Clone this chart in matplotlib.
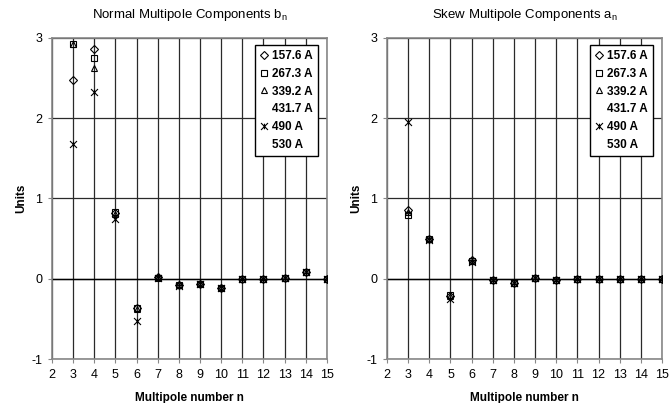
import numpy as np
import matplotlib.pyplot as plt
from matplotlib.path import Path

plt.rcParams['font.family'] = ['Liberation Sans', 'DejaVu Sans']
plt.rcParams['axes.unicode_minus'] = False

n = [3, 4, 5, 6, 7, 8, 9, 10, 11, 12, 13, 14, 15]
currents = ['157.6 A', '267.3 A', '339.2 A', '431.7 A', '490 A', '530 A']

# normal components b_n (units), one list per current
b_157 = [2.47, 2.86, 0.82, -0.37, 0.02, -0.08, -0.06, -0.11, 0.00, 0.00, 0.01, 0.08, 0.00]
b_267 = [2.92, 2.75, 0.83, -0.36, 0.01, -0.08, -0.06, -0.11, 0.00, 0.00, 0.01, 0.09, 0.00]
b_339 = [2.92, 2.62, 0.81, -0.38, 0.02, -0.07, -0.05, -0.10, 0.00, 0.00, 0.01, 0.09, 0.00]
b_431 = [2.92, 2.60, 0.80, -0.38, 0.01, -0.08, -0.06, -0.11, 0.00, 0.00, 0.01, 0.08, 0.00]
b_490 = [1.68, 2.32, 0.75, -0.52, 0.01, -0.09, -0.06, -0.12, 0.00, 0.00, 0.01, 0.08, 0.00]
b_530 = [2.92, 2.60, 0.80, -0.39, 0.01, -0.08, -0.06, -0.11, 0.00, 0.00, 0.01, 0.08, 0.00]

# skew components a_n
a_157 = [0.86, 0.50, -0.21, 0.23, -0.02, -0.05, 0.01, -0.01, 0.00, 0.00, 0.00, 0.00, 0.00]
a_267 = [0.79, 0.49, -0.20, 0.22, -0.02, -0.05, 0.01, -0.01, 0.00, 0.00, 0.00, 0.00, 0.00]
a_339 = [0.83, 0.49, -0.22, 0.22, -0.02, -0.05, 0.01, -0.01, 0.00, 0.00, 0.00, 0.00, 0.00]
a_431 = [0.82, 0.48, -0.22, 0.22, -0.02, -0.05, 0.01, -0.01, 0.00, 0.00, 0.00, 0.00, 0.00]
a_490 = [1.95, 0.48, -0.25, 0.21, -0.02, -0.05, 0.01, -0.01, 0.00, 0.00, 0.00, 0.00, 0.00]
a_530 = [0.81, 0.48, -0.22, 0.22, -0.02, -0.05, 0.01, -0.01, 0.00, 0.00, 0.00, 0.00, 0.00]

# excel style "star" marker: x with a short vertical bar
star = Path([(-1, -1), (1, 1), (-1, 1), (1, -1), (0, -0.8), (0, 0.8)],
            [Path.MOVETO, Path.LINETO, Path.MOVETO, Path.LINETO, Path.MOVETO, Path.LINETO])
markers = ['D', 's', '^', 'none', star, 'none']
sizes = [4, 5, 5, 5, 5, 5]

fig = plt.figure(figsize=(6.69, 4.03), dpi=100)
ax1 = fig.add_axes([0.0777, 0.109, 0.411, 0.797])
ax2 = fig.add_axes([0.5785, 0.109, 0.411, 0.797])

panels = [
    (ax1, [b_157, b_267, b_339, b_431, b_490, b_530], r'Normal Multipole Components b$_\mathregular{n}$'),
    (ax2, [a_157, a_267, a_339, a_431, a_490, a_530], r'Skew Multipole Components a$_\mathregular{n}$'),
]

for ax, series, title in panels:
    for vals, lab, m, ms in zip(series, currents, markers, sizes):
        ax.plot(n, vals, linestyle='none', marker=m, markersize=ms,
                markerfacecolor='none', markeredgecolor='black',
                markeredgewidth=0.8, label=lab, zorder=3)
    ax.set_xlim(2, 15)
    ax.set_ylim(-1, 3)
    ax.set_xticks(range(2, 16))
    ax.set_yticks([-1, 0, 1, 2, 3])
    ax.grid(True, color='#2a2a2a', linewidth=0.9)
    ax.axhline(0, color='black', linewidth=1.0, zorder=2)
    for s in ax.spines.values():
        s.set_color('#888888')
        s.set_linewidth(1.2)
    ax.tick_params(axis='both', labelsize=9, length=3, color='#888888', pad=4)
    ax.set_title(title, fontsize=9.5, pad=14)
    ax.set_xlabel('Multipole number n', fontsize=8.5, fontweight='bold', labelpad=8)
    ax.set_ylabel('Units', fontsize=8.5, fontweight='bold', labelpad=3)
    leg = ax.legend(loc='upper right', bbox_to_anchor=(0.975, 0.985),
                    prop={'weight': 'bold', 'size': 8.5}, frameon=True, fancybox=False,
                    edgecolor='black', framealpha=1, handlelength=0.8, handletextpad=0.3,
                    labelspacing=0.5, borderpad=0.4, borderaxespad=0.2)
    leg.get_frame().set_linewidth(1.0)

fig.savefig('out.png', dpi=100)
